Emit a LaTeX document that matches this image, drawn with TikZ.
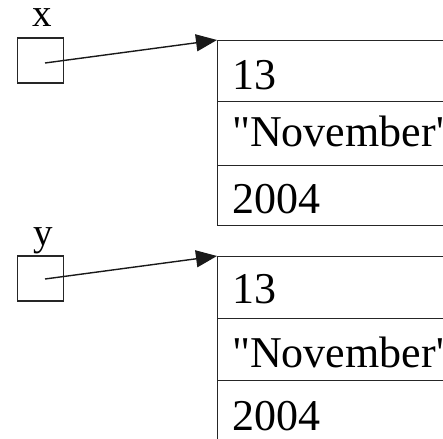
\documentclass[tikz,border=0pt]{standalone}
\usepackage{fontspec}
\newfontfamily\rawserif{Liberation Serif}
\setmainfont{Liberation Serif}
\usetikzlibrary{arrows.meta}
\begin{document}
\begin{tikzpicture}[x=1pt,y=-1pt,
  ln/.style={draw=black!85,line width=1.4pt},
  ptrbox/.style={ln,rectangle,minimum width=46pt,minimum height=45pt,inner sep=0pt},
  cell/.style={ln,rectangle,anchor=north west,minimum width=300pt,inner sep=0pt},
  txt/.style={anchor=base west,inner sep=0pt,font=\rawserif\fontsize{44}{50}\selectfont},
  lbl/.style={anchor=base,inner sep=0pt,font=\rawserif\fontsize{39}{44}\selectfont},
  arr/.style={draw=black!90,line width=1.4pt,-{Triangle[length=21pt,width=17pt]}}]
\useasboundingbox (0,0) rectangle (443,438);
\clip (0,0) rectangle (443,438);
% pointer x
\node[ptrbox] (xbox) at (40.5,60.5) {};
\node[lbl] (xlab) at (42,27) {x};
\coordinate (xs) at (45,63);
% record 1
\node[cell,minimum height=61pt] (r1a) at (217,40) {};
\node[cell,minimum height=64pt] (r1b) at (217,101) {};
\node[cell,minimum height=60pt] (r1c) at (217,165) {};
\node[txt] (t1a) at (232,90) {13};
\node[txt] (t1b) at (232,147) {"November"};
\node[txt] (t1c) at (232,213) {2004};
\draw[arr] (xs) -- (r1a.north west);
% pointer y
\node[ptrbox] (ybox) at (40.5,278.5) {};
\node[lbl] (ylab) at (43,245) {y};
\coordinate (ys) at (45,279);
% record 2
\node[cell,minimum height=62pt] (r2a) at (217,256) {};
\node[cell,minimum height=62pt] (r2b) at (217,318) {};
\node[cell,minimum height=90pt] (r2c) at (217,380) {};
\node[txt] (t2a) at (232,303) {13};
\node[txt] (t2b) at (232,367) {"November"};
\node[txt] (t2c) at (232,430) {2004};
\draw[arr] (ys) -- (r2a.north west);
\end{tikzpicture}
\end{document}
